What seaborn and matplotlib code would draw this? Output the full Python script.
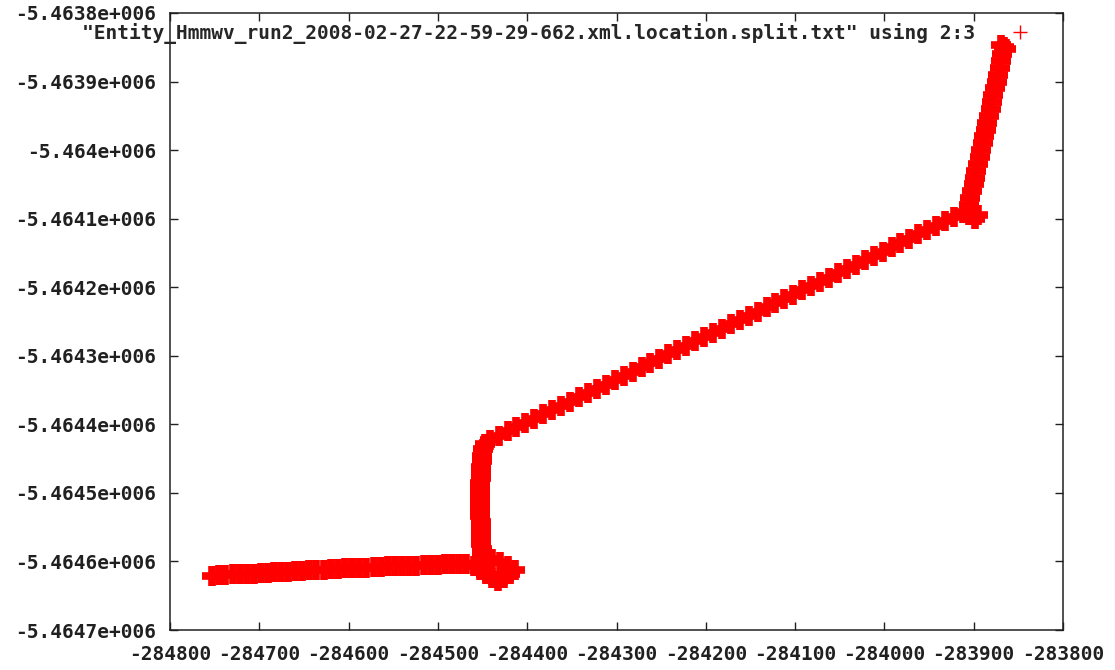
import numpy as np
import pandas as pd
import seaborn as sns
import matplotlib.pyplot as plt
from matplotlib.lines import Line2D
from matplotlib.ticker import MultipleLocator, FuncFormatter

# track legs (easting, northing)
west_x = [-284753, -284745, -284738, -284730, -284722, -284714, -284706, -284698,
          -284690, -284683, -284676, -284668, -284660, -284652, -284644, -284636,
          -284628, -284620, -284612, -284604, -284596, -284588, -284580, -284572,
          -284564, -284556, -284548, -284540, -284532, -284524, -284516, -284508,
          -284500, -284492, -284484, -284476, -284468]
west_y = [-5464621, -5464620, -5464620, -5464619, -5464619, -5464618, -5464618, -5464617,
          -5464617, -5464616, -5464616, -5464615, -5464614, -5464614, -5464613, -5464612,
          -5464612, -5464611, -5464611, -5464610, -5464610, -5464609, -5464609, -5464608,
          -5464608, -5464607, -5464607, -5464606, -5464606, -5464606, -5464605, -5464605,
          -5464605, -5464604, -5464604, -5464604, -5464604]

loop_x = [-284460, -284453, -284446, -284439, -284433, -284426, -284419, -284414,
          -284422, -284430, -284439, -284447]
loop_y = [-5464607, -5464613, -5464618, -5464624, -5464629, -5464624, -5464618, -5464613,
          -5464607, -5464601, -5464596, -5464592]

north_x = [-284451, -284451, -284452, -284452, -284452, -284452, -284452, -284453,
           -284453, -284453, -284453, -284453, -284453, -284453, -284452, -284452,
           -284452, -284451, -284451, -284450, -284447]
north_y = [-5464590, -5464582, -5464574, -5464566, -5464558, -5464550, -5464542, -5464534,
           -5464526, -5464518, -5464510, -5464502, -5464494, -5464486, -5464478, -5464470,
           -5464462, -5464454, -5464446, -5464436, -5464428]

diag_x = [-284442, -284432, -284422, -284412, -284402, -284392, -284382, -284372,
          -284362, -284352, -284342, -284332, -284322, -284312, -284302, -284292,
          -284282, -284272, -284262, -284252, -284242, -284232, -284222, -284212,
          -284202, -284192, -284182, -284172, -284162, -284152, -284142, -284132,
          -284122, -284112, -284102, -284092, -284082, -284072, -284062, -284052,
          -284042, -284032, -284022, -284012, -284002, -283992, -283982, -283972,
          -283962, -283952, -283942, -283932, -283922, -283912, -283905, -283898, -283895]
diag_y = [-5464423, -5464417, -5464410, -5464404, -5464398, -5464392, -5464385, -5464379,
          -5464373, -5464367, -5464360, -5464354, -5464348, -5464342, -5464336, -5464329,
          -5464323, -5464317, -5464311, -5464304, -5464298, -5464292, -5464286, -5464279,
          -5464273, -5464267, -5464261, -5464254, -5464248, -5464242, -5464236, -5464229,
          -5464223, -5464217, -5464211, -5464204, -5464198, -5464192, -5464186, -5464179,
          -5464173, -5464167, -5464161, -5464154, -5464148, -5464142, -5464136, -5464129,
          -5464123, -5464117, -5464111, -5464104, -5464098, -5464092, -5464095, -5464100, -5464094]

climb_x = [-283907, -283905, -283904, -283902, -283900, -283898, -283897, -283895,
           -283893, -283892, -283890, -283888, -283886, -283885, -283883, -283881,
           -283880, -283878, -283876, -283874, -283873, -283871, -283869, -283868,
           -283866, -283869, -283864]
climb_y = [-5464090, -5464080, -5464070, -5464060, -5464050, -5464040, -5464030, -5464020,
           -5464010, -5464000, -5463990, -5463980, -5463970, -5463960, -5463950, -5463940,
           -5463930, -5463920, -5463910, -5463900, -5463890, -5463880, -5463870, -5463860,
           -5463850, -5463847, -5463853]

label = '"Entity_Hmmwv_run2_2008-02-27-22-59-29-662.xml.location.split.txt" using 2:3'

df = pd.DataFrame({
    'x': west_x + loop_x + north_x + diag_x + climb_x,
    'y': west_y + loop_y + north_y + diag_y + climb_y,
})

sns.set_style("ticks")
plt.rcParams['font.family'] = ['DejaVu Sans Mono']
plt.rcParams['font.weight'] = 'bold'

fig = plt.figure(figsize=(11.15, 6.7), dpi=100)
ax = fig.add_axes([170 / 1115, 1 - 630 / 670, 893 / 1115, 617 / 670])

sns.scatterplot(data=df, x='x', y='y', marker='+', color='red', s=190,
                linewidth=5.5, ax=ax, legend=False)

ax.set_xlim(-284800, -283800)
ax.set_ylim(-5464700, -5463800)
ax.xaxis.set_major_locator(MultipleLocator(100))
ax.yaxis.set_major_locator(MultipleLocator(100))
ax.xaxis.set_major_formatter(FuncFormatter(lambda v, p: f"{v:g}"))
ax.yaxis.set_major_formatter(
    FuncFormatter(lambda v, p: f"{v:g}".replace("e+06", "e+006")))
ax.set_xlabel("")
ax.set_ylabel("")
ax.tick_params(direction='in', length=6, width=1, top=True, right=True,
               labelsize=14, colors='#202020')
ax.tick_params(axis='x', pad=11)
ax.tick_params(axis='y', pad=10)
for s in ax.spines.values():
    s.set_linewidth(1.1)
    s.set_color('#202020')

handle = Line2D([], [], color='red', marker='+', ls='', ms=9.5, mew=1)
ax.legend([handle], [label], loc='upper right', bbox_to_anchor=(1039 / 1115, 0.966),
          bbox_transform=fig.transFigure, frameon=False, markerfirst=False,
          handlelength=2, handletextpad=1.3, borderpad=0, borderaxespad=0,
          prop={'size': 14, 'weight': 'bold'})

plt.savefig("out.png", dpi=100)
